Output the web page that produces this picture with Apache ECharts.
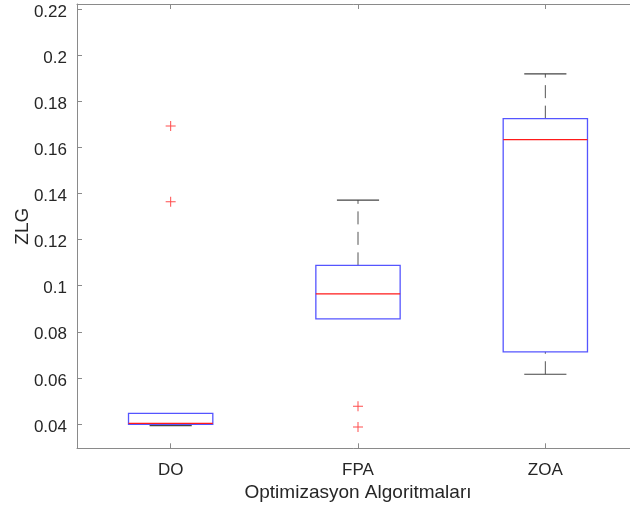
<!DOCTYPE html>
<html>
<head>
<meta charset="utf-8">
<script src="https://cdn.jsdelivr.net/npm/echarts@6/dist/echarts.min.js"></script>
<style>
html,body{margin:0;padding:0;background:#fff;}
#c{width:630px;height:510px;}
</style>
</head>
<body>
<div id="c"></div>
<script>
const categories = ['DO', 'FPA', 'ZOA'];
const whiskerLow = [0.0393, 0.0856, 0.0616];
const q1 = [0.0399, 0.0856, 0.0713];
const medianVals = [0.0403, 0.0964, 0.1633];
const q3 = [0.0446, 0.1088, 0.1724];
const whiskerHigh = [0.0446, 0.1371, 0.1918];
const outlierCat = [0, 0, 1, 1];
const outlierVal = [0.1692, 0.1364, 0.0477, 0.0387];
const yMin = 0.0295, yMax = 0.2221;

const boxData = categories.map((c, i) => [i, whiskerLow[i], q1[i], medianVals[i], q3[i], whiskerHigh[i]]);
const outlierData = outlierVal.map((v, i) => [outlierCat[i], v]);

const chart = echarts.init(document.getElementById('c'), null, {renderer: 'canvas'});
const FONT = 'Liberation Sans';
const AX = '#8a8a8a';
const TXT = '#262626';

function renderBox(params, api) {
  const x = api.value(0);
  const vLow = api.value(1), vQ1 = api.value(2), vQ3 = api.value(4), vHigh = api.value(5);
  const pLow = api.coord([x, vLow]);
  const pQ1 = api.coord([x, vQ1]);
  const pMed = api.coord([x, api.value(3)]);
  const pQ3 = api.coord([x, vQ3]);
  const pHigh = api.coord([x, vHigh]);
  const band = api.size([1, 0])[0];
  const bw = band * 0.45, cw = band * 0.225;
  const cx = pMed[0];
  const dashStyle = {stroke: '#555', lineWidth: 1, lineDash: [13, 7.5]};
  const capStyle = {stroke: '#444', lineWidth: 1.2};
  const children = [];
  if (vLow < vQ1) {
    children.push({type: 'line', shape: {x1: cx, y1: pLow[1], x2: cx, y2: pQ1[1]}, style: dashStyle});
    children.push({type: 'line', shape: {x1: cx - cw / 2, y1: pLow[1], x2: cx + cw / 2, y2: pLow[1]}, style: capStyle});
  }
  if (vHigh > vQ3) {
    children.push({type: 'line', shape: {x1: cx, y1: pQ3[1], x2: cx, y2: pHigh[1]}, style: dashStyle});
    children.push({type: 'line', shape: {x1: cx - cw / 2, y1: pHigh[1], x2: cx + cw / 2, y2: pHigh[1]}, style: capStyle});
  }
  children.push({type: 'rect', shape: {x: cx - bw / 2, y: pQ3[1], width: bw, height: pQ1[1] - pQ3[1]},
    style: {fill: 'none', stroke: '#5555ff', lineWidth: 1.3}});
  children.push({type: 'line', shape: {x1: cx - bw / 2, y1: pMed[1], x2: cx + bw / 2, y2: pMed[1]},
    style: {stroke: '#ff1a1a', lineWidth: 1.2}});
  return {type: 'group', children: children};
}

chart.setOption({
  animation: false,
  backgroundColor: '#fff',
  grid: {left: 77, top: 4, width: 562, height: 444.3, outerBoundsMode: 'none', containLabel: false, show: false},
  xAxis: [{
    type: 'category',
    data: categories,
    position: 'bottom',
    name: 'Optimizasyon Algoritmaları',
    nameLocation: 'middle',
    nameGap: 35,
    nameMoveOverlap: false,
    nameTextStyle: {fontFamily: FONT, fontSize: 19, color: TXT, verticalAlign: 'top'},
    axisLine: {show: true, lineStyle: {color: AX, width: 1}},
    axisTick: {show: true, inside: true, alignWithLabel: true, length: 5, lineStyle: {color: AX}},
    axisLabel: {fontFamily: FONT, fontSize: 17, color: TXT, margin: 14},
    splitLine: {show: false}
  }, {
    type: 'category',
    data: categories,
    position: 'top',
    axisLine: {show: true, lineStyle: {color: AX, width: 1}},
    axisTick: {show: true, inside: true, alignWithLabel: true, length: 5, lineStyle: {color: AX}},
    axisLabel: {show: false},
    splitLine: {show: false}
  }],
  yAxis: [{
    type: 'value',
    min: yMin,
    max: yMax,
    splitNumber: 10,
    name: 'ZLG',
    nameLocation: 'middle',
    nameGap: 45,
    nameMoveOverlap: false,
    nameTextStyle: {fontFamily: FONT, fontSize: 19, color: TXT},
    axisLine: {show: true, lineStyle: {color: AX, width: 1}},
    axisTick: {show: true, inside: true, length: 5, lineStyle: {color: AX}},
    axisLabel: {fontFamily: FONT, fontSize: 17, color: TXT, margin: 10, showMinLabel: false, showMaxLabel: false,
      verticalAlign: 'top', lineHeight: 6,
      formatter: v => String(Math.round(v * 1000) / 1000)},
    splitLine: {show: false}
  }],
  series: [{
    type: 'custom',
    xAxisIndex: 0,
    yAxisIndex: 0,
    renderItem: renderBox,
    encode: {x: 0, y: [1, 2, 3, 4, 5]},
    data: boxData,
    z: 2
  }, {
    type: 'scatter',
    xAxisIndex: 0,
    yAxisIndex: 0,
    symbol: 'path://M4.5,0h1v4.5h4.5v1h-4.5v4.5h-1v-4.5h-4.5v-1h4.5z',
    symbolSize: 10,
    itemStyle: {color: '#ff2020'},
    data: outlierData,
    z: 3
  }]
});
</script>
</body>
</html>
